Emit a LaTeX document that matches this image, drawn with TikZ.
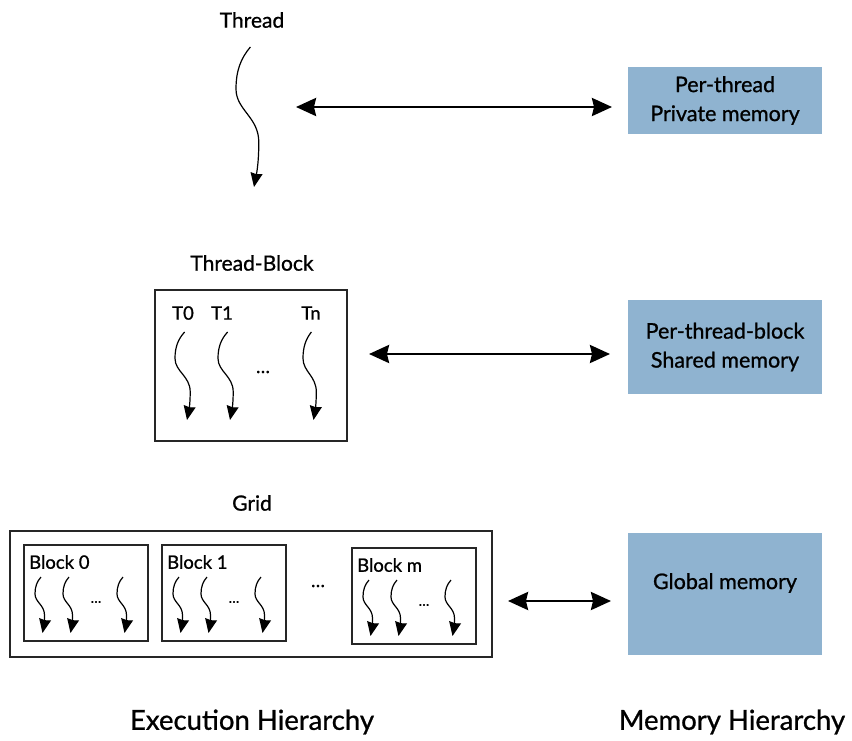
\documentclass[tikz,border=0pt]{standalone}
\usepackage{fontspec}
\setmainfont{Lato}[FakeBold=0.9]
\usetikzlibrary{arrows.meta}
\definecolor{memblue}{RGB}{143,179,208}

% a thread drawn as a wavy downward arrow: x, y of its top, half-width, height
\newcommand\threadsquig[4]{%
  \begin{scope}[shift={(#1,#2)}, xscale=#3, yscale=#4]
    \draw[squig] (0.2,0) .. controls (-0.6,0.08) and (-1,0.17) .. (-1,0.3)
      .. controls (-1,0.45) and (0.9,0.5) .. (0.9,0.68)
      .. controls (0.9,0.85) and (0.65,0.93) .. (0.5,1);
  \end{scope}}

\begin{document}
\begin{tikzpicture}[x=1pt, y=-1pt,
  lbl/.style={font=\fontsize{21}{25}\selectfont, inner sep=0pt, text=black},
  small/.style={font=\fontsize{18.5}{22}\selectfont, inner sep=0pt, text=black},
  bottom/.style={font=\fontsize{27.5}{32}\selectfont, inner sep=0pt, text=black},
  membox/.style={fill=memblue, draw=none, minimum width=194pt, inner sep=0pt,
    align=center, font=\fontsize{21.5}{29}\selectfont, text=black},
  frame/.style={draw=black!85, line width=1.2pt},
  bigarrow/.style={line width=2.6pt,
    {Stealth[length=20pt,width=18pt,inset=2pt]}-{Stealth[length=20pt,width=18pt,inset=2pt]}},
  squig/.style={line width=1.2pt, -{Stealth[length=14pt,width=12pt,inset=1pt]}}]
\useasboundingbox (0,0) rectangle (852,740);

% ---- thread level ----
\node[lbl] (thread) at (252,20) {Thread};
\threadsquig{248}{47}{12}{140}
\node[membox, minimum height=67pt] (privmem) at (725,100.5) {Per-thread\\Private memory};
\coordinate (a1) at (296,107);
\coordinate (b1) at (612,107);
\draw[bigarrow] (a1) -- (b1);

% ---- thread-block level ----
\node[lbl] (tblock) at (252,263) {Thread-Block};
\draw[frame] (155,290) rectangle (347,441);
\node[small] (t0) at (183,313) {T0};
\node[small] (t1) at (222,313) {T1};
\node[small] (tn) at (311,313) {Tn};
\threadsquig{183}{332}{8}{88}
\threadsquig{226}{332}{8}{88}
\threadsquig{310}{332}{7}{88}
\node[small] (tdots) at (263,372) {\dots};
\node[membox, minimum height=94pt] (sharedmem) at (725,347) {Per-thread-block\\Shared memory};
\coordinate (a2) at (369,354);
\coordinate (b2) at (610,354);
\draw[bigarrow] (a2) -- (b2);

% ---- grid level ----
\node[lbl] (grid) at (252,503) {Grid};
\draw[frame] (10,531) rectangle (492,657);
\foreach \bx/\by/\name in {24/545/Block 0, 162/545/Block 1, 352/548/Block m}{
  \draw[frame] (\bx,\by) rectangle ++(124,96);
  \node[small, anchor=west] at (\bx+5,\by+17) {\name};
  \threadsquig{\bx+16}{\by+32}{5}{56}
  \threadsquig{\bx+44}{\by+32}{5}{56}
  \threadsquig{\bx+98}{\by+32}{5}{56}
  \node[font=\fontsize{14}{16}\selectfont, inner sep=0pt] at (\bx+72,\by+57) {\dots};
}
\node[small] (gdots) at (318,586) {\dots};
\node[membox, minimum height=122pt] (globalmem) at (725,594) {};
\node[membox, fill=none] (globaltxt) at (725,583) {Global memory};
\coordinate (a3) at (508,601);
\coordinate (b3) at (611,601);
\draw[bigarrow] (a3) -- (b3);

% ---- column captions ----
\node[bottom] (exec) at (252,722) {Execution Hierarchy};
\node[bottom] (mem) at (732,722) {Memory Hierarchy};
\end{tikzpicture}
\end{document}
